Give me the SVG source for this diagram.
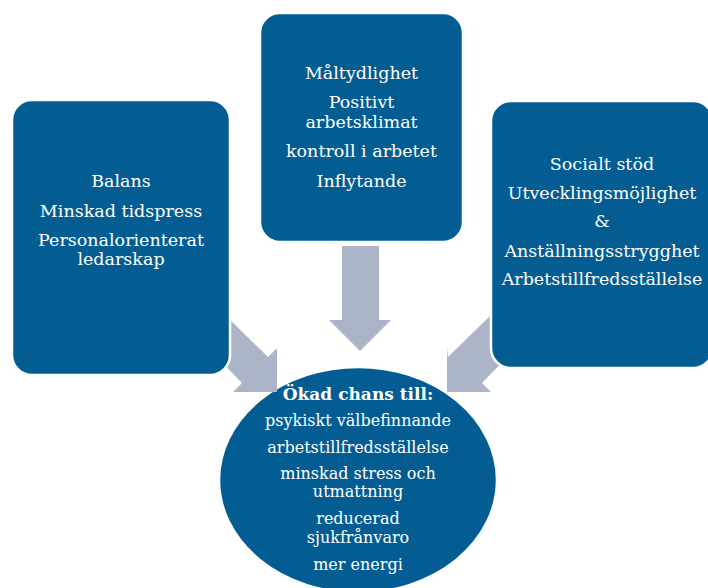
<svg xmlns="http://www.w3.org/2000/svg" width="708" height="588" viewBox="0 0 708 588">
<style>
.box{fill:#035d92;stroke:#ffffff;stroke-width:2.5}
.arr{fill:#abb5c7;stroke:none}
.t{font-family:"DejaVu Serif","Liberation Serif",serif;font-size:17.5px;fill:#ffffff;text-anchor:middle}
.e{font-family:"DejaVu Serif","Liberation Serif",serif;font-size:16px;fill:#ffffff;text-anchor:middle}
.b{font-weight:bold;font-size:17px}
</style>
<rect width="708" height="588" fill="#ffffff"/>
<g id="outcome">
<ellipse class="box" cx="358" cy="480" rx="139" ry="113"/>
<text class="e b" x="358" y="400">Ökad chans till:</text>
<text class="e" x="358" y="426">psykiskt välbefinnande</text>
<text class="e" x="358" y="453">arbetstillfredsställelse</text>
<text class="e" x="358" y="479">minskad stress och</text>
<text class="e" x="358" y="497">utmattning</text>
<text class="e" x="358" y="524">reducerad</text>
<text class="e" x="358" y="543">sjukfrånvaro</text>
<text class="e" x="358" y="570">mer energi</text>
</g>
<g id="connectors">
<polygon class="arr" points="342,246 379,246 379,320 391,320 360,351 329,320 342,320"/>
<polygon class="arr" points="225,315 268,357 277,348 277,392 233,392 242,383 200,340"/>
<polygon class="arr" points="491,315 448,357 447,348 447,392 491,392 482,383 524,340"/>
</g>
<g id="box-left">
<rect class="box" x="12" y="100" width="218" height="275" rx="20"/>
<text class="t" x="121" y="187">Balans</text>
<text class="t" x="121" y="217">Minskad tidspress</text>
<text class="t" x="121" y="246">Personalorienterat</text>
<text class="t" x="121" y="265">ledarskap</text>
</g>
<g id="box-middle">
<rect class="box" x="260" y="13" width="203" height="229" rx="20"/>
<text class="t" x="361.5" y="79">Måltydlighet</text>
<text class="t" x="361.5" y="108">Positivt</text>
<text class="t" x="361.5" y="128">arbetsklimat</text>
<text class="t" x="361.5" y="157">kontroll i arbetet</text>
<text class="t" x="361.5" y="187">Inflytande</text>
</g>
<g id="box-right">
<rect class="box" x="491" y="101" width="222" height="267" rx="20"/>
<text class="t" x="602" y="170">Socialt stöd</text>
<text class="t" x="602" y="199">Utvecklingsmöjlighet</text>
<text class="t" x="602" y="227">&amp;</text>
<text class="t" x="602" y="257">Anställningsstrygghet</text>
<text class="t" x="602" y="285">Arbetstillfredsställelse</text>
</g>
</svg>
